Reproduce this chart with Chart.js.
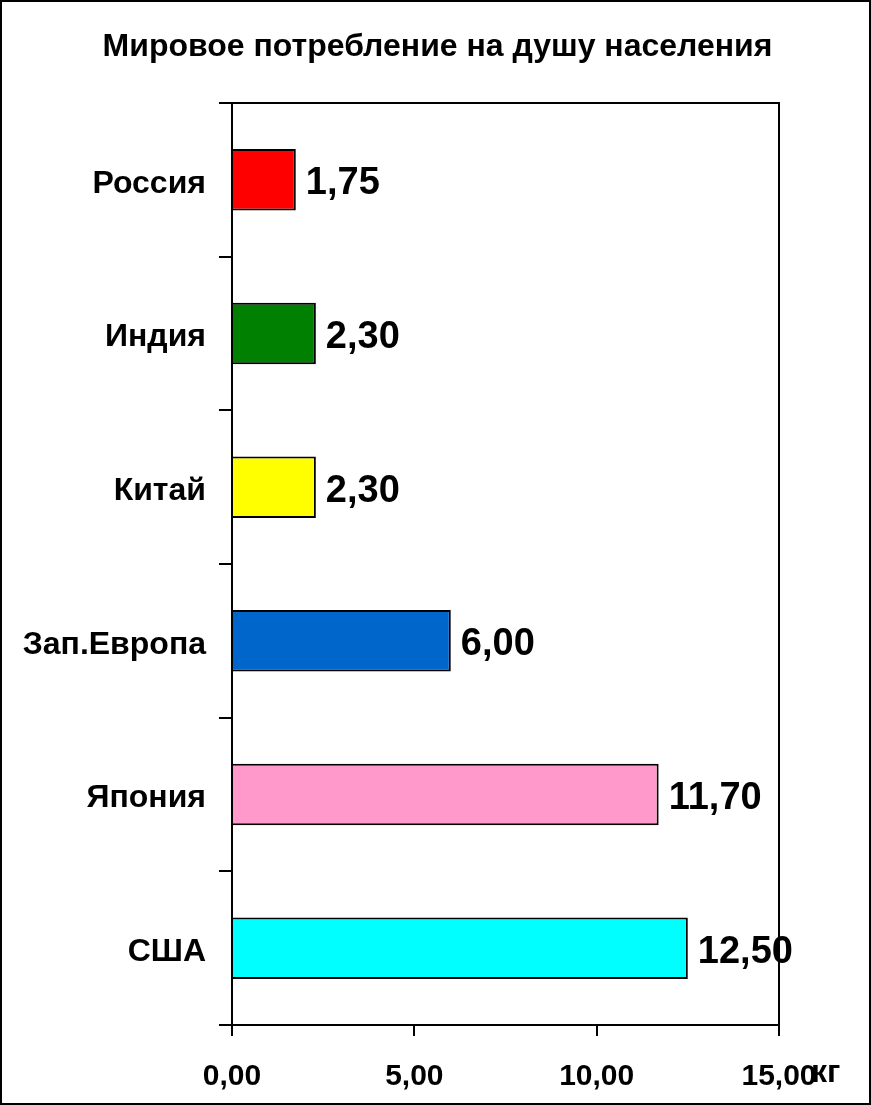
<!DOCTYPE html>
<html>
<head>
<meta charset="utf-8">
<script src="https://cdn.jsdelivr.net/npm/chart.js@4"></script>
<style>
  html, body { margin: 0; padding: 0; background: #fff; }
  #wrap { position: relative; width: 871px; height: 1105px; }
</style>
</head>
<body>
<div id="wrap"><canvas id="chart"></canvas></div>
<script>
// данные
const categories = ['Россия', 'Индия', 'Китай', 'Зап.Европа', 'Япония', 'США'];
const values = [1.75, 2.30, 2.30, 6.00, 11.70, 12.50];
const xTicks = [0, 5, 10, 15];
const unitLabel = 'кг';
const titleText = 'Мировое потребление на душу населения';

const barColors = ['#FF0000', '#008000', '#FFFF00', '#0066CC', '#FF99CC', '#00FFFF'];
const FONT = "Arial, 'Liberation Sans', sans-serif";

const fmt = v => Number(v).toFixed(2).replace('.', ',');

// заголовок, подписи значений, рамка области построения, "кг" и рамка картинки
const extras = {
    id: 'extras',
    afterDatasetsDraw(chart) {
        const ctx = chart.ctx;
        const meta = chart.getDatasetMeta(0);
        ctx.save();
        ctx.fillStyle = '#000';
        ctx.font = 'bold 38px ' + FONT;
        ctx.textAlign = 'left';
        ctx.textBaseline = 'middle';
        meta.data.forEach((bar, i) => {
            ctx.fillText(fmt(values[i]), bar.x + 10, bar.y + 4);
        });
        ctx.restore();
    },
    afterDraw(chart) {
        const ctx = chart.ctx;
        const a = chart.chartArea;
        const xs = chart.scales.x;
        ctx.save();
        ctx.strokeStyle = '#000';
        ctx.lineWidth = 2;
        ctx.beginPath();
        ctx.moveTo(a.left, a.top);
        ctx.lineTo(a.right, a.top);
        ctx.lineTo(a.right, a.bottom);
        ctx.stroke();

        ctx.fillStyle = '#000';
        ctx.textBaseline = 'middle';
        ctx.textAlign = 'center';
        ctx.font = 'bold 32px ' + FONT;
        ctx.fillText(titleText, chart.width / 2 + 2, 47);

        ctx.textAlign = 'left';
        ctx.font = 'bold 32px ' + FONT;
        ctx.fillText(unitLabel, xs.right + 32, a.bottom + 48);

        ctx.lineWidth = 2;
        ctx.strokeRect(1, 1, chart.width - 2, chart.height - 2);
        ctx.restore();
    }
};

new Chart(document.getElementById('chart'), {
    type: 'bar',
    data: {
        labels: categories,
        datasets: [{
            data: values,
            backgroundColor: barColors,
            borderColor: '#000',
            borderWidth: 2,
            barPercentage: 0.4,
            categoryPercentage: 1.0
        }]
    },
    options: {
        indexAxis: 'y',
        responsive: true,
        maintainAspectRatio: false,
        animation: false,
        layout: { padding: { top: 103, right: 92, bottom: 0, left: 0 } },
        plugins: {
            legend: { display: false },
            tooltip: { enabled: false },
            title: { display: false }
        },
        scales: {
            x: {
                min: 0,
                max: 15,
                afterBuildTicks: s => { s.ticks = xTicks.map(v => ({ value: v })); },
                afterFit: s => { s.height = 80; },
                border: { display: true, color: '#000', width: 2 },
                grid: { drawOnChartArea: false, drawTicks: true, tickLength: 11, color: '#000', lineWidth: 2 },
                ticks: {
                    color: '#000',
                    font: { family: FONT, size: 30, weight: 'bold' },
                    padding: 23,
                    maxRotation: 0,
                    callback: v => fmt(v)
                }
            },
            y: {
                afterFit: s => { s.width = 232; },
                border: { display: true, color: '#000', width: 2 },
                grid: { drawOnChartArea: false, drawTicks: true, tickLength: 13, color: '#000', lineWidth: 2, offset: true },
                ticks: {
                    color: '#000',
                    font: { family: FONT, size: 32, weight: 'bold' },
                    padding: 13,
                    labelOffset: 4
                }
            }
        }
    },
    plugins: [extras]
});
</script>
</body>
</html>
